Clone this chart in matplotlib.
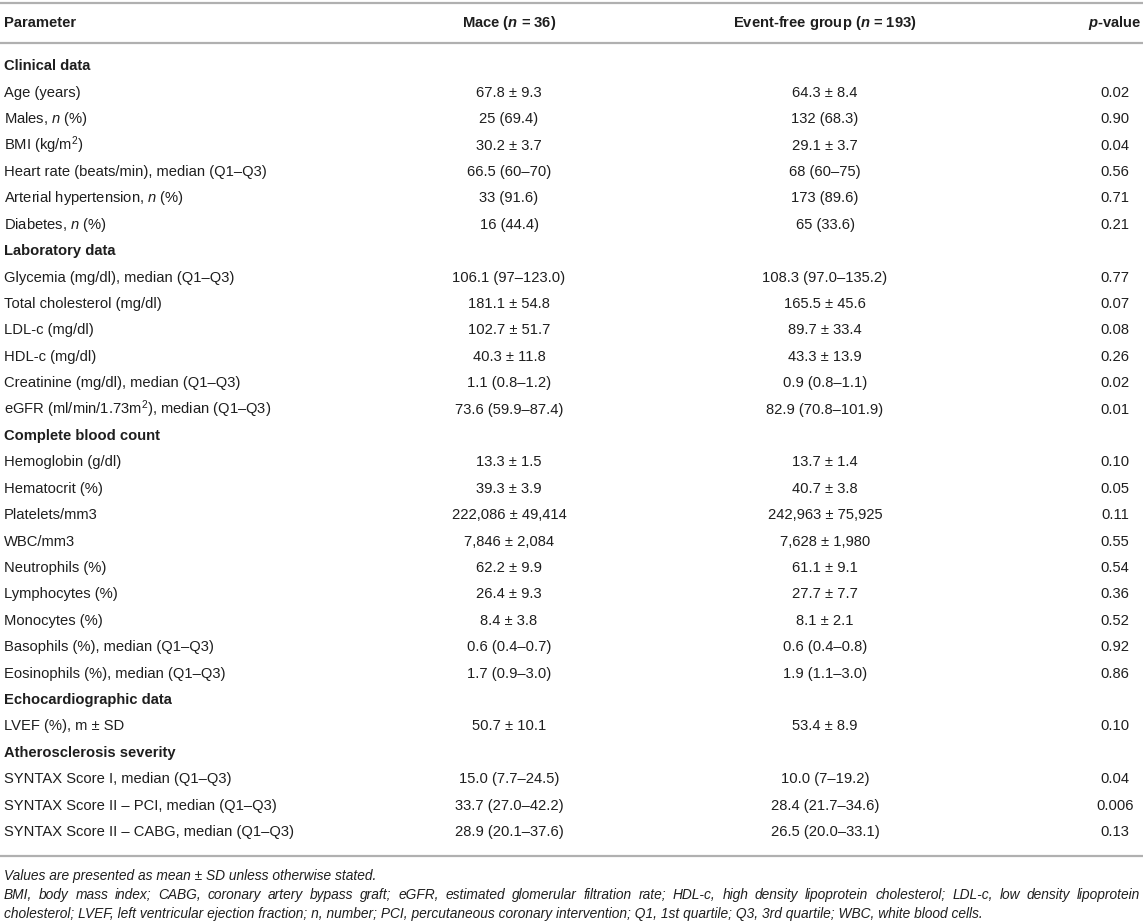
import matplotlib.pyplot as plt

plt.rcParams['font.family'] = 'Liberation Sans'
plt.rcParams['mathtext.fontset'] = 'custom'
plt.rcParams['mathtext.rm'] = 'Liberation Sans'
plt.rcParams['mathtext.it'] = 'Liberation Sans:italic'
plt.rcParams['mathtext.bf'] = 'Liberation Sans:bold'
plt.rcParams['mathtext.bfit'] = 'Liberation Sans:italic:bold'

header = ["Parameter", r"Mace ($\mathbfit{n}$ = 36)",
          r"Event-free group ($\mathbfit{n}$ = 193)", r"$\mathbfit{p}$-value"]

# None in the value columns marks a section heading
rows = [
    ("Clinical data", None, None, None),
    ("Age (years)", "67.8 ± 9.3", "64.3 ± 8.4", "0.02"),
    (r"Males, $\mathit{n}$ (%)", "25 (69.4)", "132 (68.3)", "0.90"),
    (r"BMI (kg/m$^2$)", "30.2 ± 3.7", "29.1 ± 3.7", "0.04"),
    ("Heart rate (beats/min), median (Q1–Q3)", "66.5 (60–70)", "68 (60–75)", "0.56"),
    (r"Arterial hypertension, $\mathit{n}$ (%)", "33 (91.6)", "173 (89.6)", "0.71"),
    (r"Diabetes, $\mathit{n}$ (%)", "16 (44.4)", "65 (33.6)", "0.21"),
    ("Laboratory data", None, None, None),
    ("Glycemia (mg/dl), median (Q1–Q3)", "106.1 (97–123.0)", "108.3 (97.0–135.2)", "0.77"),
    ("Total cholesterol (mg/dl)", "181.1 ± 54.8", "165.5 ± 45.6", "0.07"),
    ("LDL-c (mg/dl)", "102.7 ± 51.7", "89.7 ± 33.4", "0.08"),
    ("HDL-c (mg/dl)", "40.3 ± 11.8", "43.3 ± 13.9", "0.26"),
    ("Creatinine (mg/dl), median (Q1–Q3)", "1.1 (0.8–1.2)", "0.9 (0.8–1.1)", "0.02"),
    (r"eGFR (ml/min/1.73m$^2$), median (Q1–Q3)", "73.6 (59.9–87.4)", "82.9 (70.8–101.9)", "0.01"),
    ("Complete blood count", None, None, None),
    ("Hemoglobin (g/dl)", "13.3 ± 1.5", "13.7 ± 1.4", "0.10"),
    ("Hematocrit (%)", "39.3 ± 3.9", "40.7 ± 3.8", "0.05"),
    ("Platelets/mm3", "222,086 ± 49,414", "242,963 ± 75,925", "0.11"),
    ("WBC/mm3", "7,846 ± 2,084", "7,628 ± 1,980", "0.55"),
    ("Neutrophils (%)", "62.2 ± 9.9", "61.1 ± 9.1", "0.54"),
    ("Lymphocytes (%)", "26.4 ± 9.3", "27.7 ± 7.7", "0.36"),
    ("Monocytes (%)", "8.4 ± 3.8", "8.1 ± 2.1", "0.52"),
    ("Basophils (%), median (Q1–Q3)", "0.6 (0.4–0.7)", "0.6 (0.4–0.8)", "0.92"),
    ("Eosinophils (%), median (Q1–Q3)", "1.7 (0.9–3.0)", "1.9 (1.1–3.0)", "0.86"),
    ("Echocardiographic data", None, None, None),
    ("LVEF (%), m ± SD", "50.7 ± 10.1", "53.4 ± 8.9", "0.10"),
    ("Atherosclerosis severity", None, None, None),
    ("SYNTAX Score I, median (Q1–Q3)", "15.0 (7.7–24.5)", "10.0 (7–19.2)", "0.04"),
    ("SYNTAX Score II – PCI, median (Q1–Q3)", "33.7 (27.0–42.2)", "28.4 (21.7–34.6)", "0.006"),
    ("SYNTAX Score II – CABG, median (Q1–Q3)", "28.9 (20.1–37.6)", "26.5 (20.0–33.1)", "0.13"),
]

# second footnote line is justified to the full width in the original
footnotes = [
    ("Values are presented as mean ± SD unless otherwise stated.", False),
    ("BMI, body mass index; CABG, coronary artery bypass graft; eGFR, estimated glomerular filtration rate; "
     "HDL-c, high density lipoprotein cholesterol; LDL-c, low density lipoprotein", True),
    ("cholesterol; LVEF, left ventricular ejection fraction; n, number; PCI, percutaneous coronary intervention; "
     "Q1, 1st quartile; Q3, 3rd quartile; WBC, white blood cells.", False),
]

W, H = 1143, 921
fig = plt.figure(figsize=(W / 100, H / 100), dpi=100)
ax = fig.add_axes([0, 0, 1, 1])
ax.set_xlim(0, W)
ax.set_ylim(H, 0)
ax.axis("off")

txt = "#1e1e1e"
rule = "#b0b0b0"
fs = 10.6
fs_note = 9.9

x_par, x_mace, x_free, x_p = 4, 509, 825, 1115
x_right = 1140

for y in (3, 43, 856):
    ax.plot([0, W], [y, y], color=rule, lw=1.6, solid_capstyle="butt")

hy = 23
ax.text(x_par, hy, header[0], ha="left", va="center", fontsize=fs, fontweight="bold", color=txt)
ax.text(x_mace, hy, header[1], ha="center", va="center", fontsize=fs, fontweight="bold", color=txt)
ax.text(x_free, hy, header[2], ha="center", va="center", fontsize=fs, fontweight="bold", color=txt)
ax.text(x_p, hy, header[3], ha="center", va="center", fontsize=fs, fontweight="bold", color=txt)

y0, dy = 66.4, 26.4
for i, (label, m, e, p) in enumerate(rows):
    y = y0 + i * dy
    if m is None:
        ax.text(x_par, y, label, ha="left", va="center", fontsize=fs, fontweight="bold", color=txt)
        continue
    ax.text(x_par, y, label, ha="left", va="center", fontsize=fs, color=txt)
    ax.text(x_mace, y, m, ha="center", va="center", fontsize=fs, color=txt)
    ax.text(x_free, y, e, ha="center", va="center", fontsize=fs, color=txt)
    ax.text(x_p, y, p, ha="center", va="center", fontsize=fs, color=txt)

renderer = fig.canvas.get_renderer()
for i, (note, justify) in enumerate(footnotes):
    y = 876 + i * 19
    if not justify:
        ax.text(x_par, y, note, ha="left", va="center", fontsize=fs_note,
                style="italic", color=txt)
        continue
    words = note.split(" ")
    items = [ax.text(0, y, w, ha="left", va="center", fontsize=fs_note,
                     style="italic", color=txt) for w in words]
    widths = [t.get_window_extent(renderer).width for t in items]
    gap = (x_right - x_par - sum(widths)) / (len(words) - 1)
    x = x_par
    for t, w in zip(items, widths):
        t.set_x(x)
        x += w + gap

fig.savefig("out.png", dpi=100)
